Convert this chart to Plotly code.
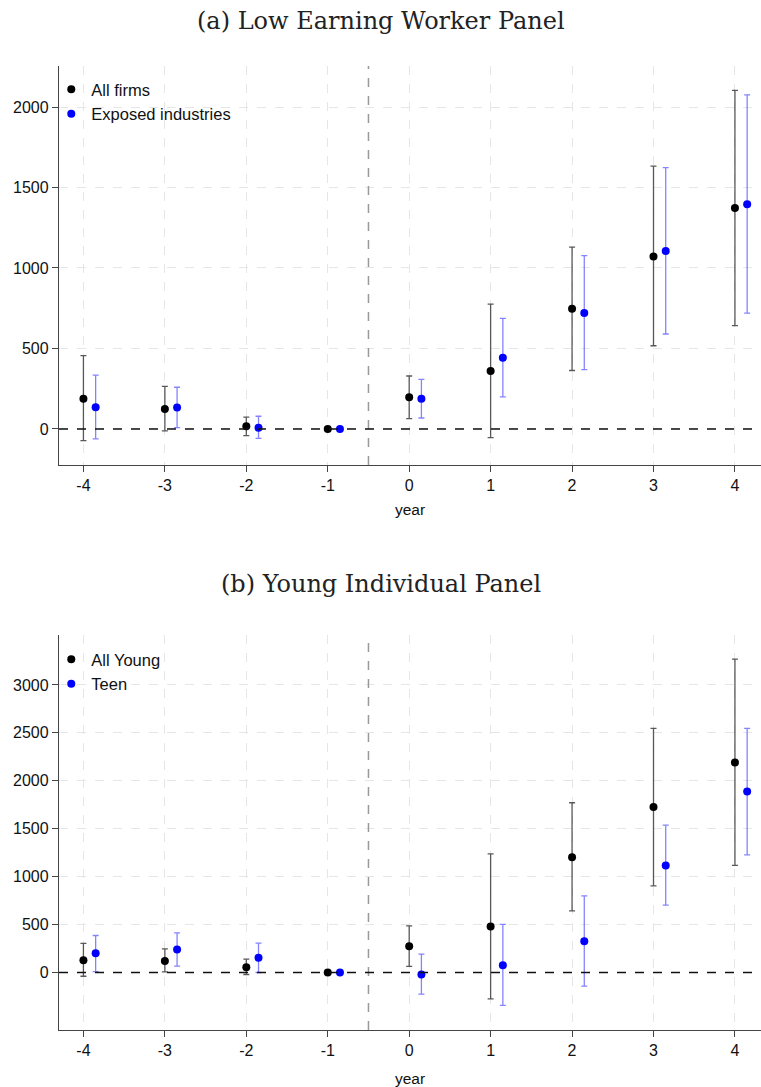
import plotly.graph_objects as go

years = [-4, -3, -2, -1, 0, 1, 2, 3, 4]
x_ticks = [-4, -3, -2, -1, 0, 1, 2, 3, 4]
x_tick_labels = ["-4", "-3", "-2", "-1", "0", "1", "2", "3", "4"]

# Panel (a): Low Earning Worker Panel
a_all_est = [188, 124, 17, 0, 197, 360, 747, 1072, 1372]
a_all_lo = [-73, -12, -41, 0, 64, -54, 363, 517, 642]
a_all_hi = [455, 265, 73, 0, 329, 776, 1130, 1633, 2103]
a_exp_est = [135, 133, 8, 0, 188, 443, 720, 1106, 1396]
a_exp_lo = [-62, 8, -58, 0, 68, 199, 368, 590, 719]
a_exp_hi = [335, 259, 79, 0, 308, 687, 1077, 1623, 2075]

# Panel (b): Young Individual Panel
b_all_est = [128, 121, 55, 0, 275, 480, 1203, 1726, 2192]
b_all_lo = [-39, 7, -21, 0, 63, -275, 643, 904, 1117]
b_all_hi = [303, 246, 139, 0, 487, 1238, 1771, 2547, 3270]
b_teen_est = [201, 240, 153, 0, -21, 76, 327, 1117, 1889]
b_teen_lo = [10, 66, 0, 0, -226, -344, -143, 703, 1228]
b_teen_hi = [386, 413, 306, 0, 191, 501, 800, 1538, 2547]

a_yticks = [0, 500, 1000, 1500, 2000]
b_yticks = [0, 500, 1000, 1500, 2000, 2500, 3000]

offset = 0.15
W, H = 761, 1087

fig = go.Figure()


def add_series(name, est, lo, hi, color, ecolor, xaxis, yaxis, legend, shift):
    fig.add_trace(go.Scatter(
        x=[y + shift for y in years], y=est, mode="markers", name=name,
        marker=dict(color=color, size=8),
        error_y=dict(type="data", symmetric=False,
                     array=[h - e for h, e in zip(hi, est)],
                     arrayminus=[e - l for e, l in zip(est, lo)],
                     color=ecolor, thickness=1.3, width=3),
        xaxis=xaxis, yaxis=yaxis, legend=legend, showlegend=True,
    ))


add_series("All firms", a_all_est, a_all_lo, a_all_hi, "black", "rgba(60,60,60,0.85)", "x", "y", "legend", 0)
add_series("Exposed industries", a_exp_est, a_exp_lo, a_exp_hi, "#0000ff", "rgba(80,80,255,0.7)", "x", "y", "legend", offset)
add_series("All Young", b_all_est, b_all_lo, b_all_hi, "black", "rgba(60,60,60,0.85)", "x2", "y2", "legend2", 0)
add_series("Teen", b_teen_est, b_teen_lo, b_teen_hi, "#0000ff", "rgba(80,80,255,0.7)", "x2", "y2", "legend2", offset)


def py(px):
    return 1 - px / H


axis_common = dict(
    showline=True, linecolor="#444", linewidth=1.3,
    ticks="outside", ticklen=6, tickcolor="#444", tickwidth=1.2,
    showgrid=True, gridcolor="#e6e6e6", griddash="dash", gridwidth=1,
    zeroline=False, tickfont=dict(family="Liberation Sans, Arial", size=16, color="#111"),
)

title_font = dict(family="DejaVu Serif, Liberation Serif, serif", size=24, color="#222")
legend_font = dict(family="Liberation Sans, Arial", size=16.5, color="#111")
xtitle_font = dict(family="Liberation Sans, Arial", size=15.5, color="#111")
xrange = [-4.3, 4.32]
fig.update_layout(
    width=W, height=H, plot_bgcolor="white", paper_bgcolor="white",
    margin=dict(l=59, r=0, t=0, b=0),
    xaxis=dict(domain=[0, 1], range=xrange, tickvals=x_ticks, ticktext=x_tick_labels, anchor="y",
               title=dict(text="year", font=xtitle_font, standoff=10),
               **axis_common),
    yaxis=dict(domain=[py(465), py(66)], range=[-224, 2255], tickvals=a_yticks, anchor="x", **axis_common),
    xaxis2=dict(domain=[0, 1], range=xrange, tickvals=x_ticks, ticktext=x_tick_labels, anchor="y2",
                title=dict(text="year", font=xtitle_font, standoff=14),
                **axis_common),
    yaxis2=dict(domain=[py(1030), py(635)], range=[-600, 3521], tickvals=b_yticks, anchor="x2", **axis_common),
    legend=dict(x=-0.011, y=py(72), xanchor="left", yanchor="top", bgcolor="rgba(0,0,0,0)",
                font=legend_font, itemwidth=30, tracegroupgap=0),
    legend2=dict(x=-0.011, y=py(642), xanchor="left", yanchor="top", bgcolor="rgba(0,0,0,0)",
                 font=legend_font, itemwidth=30, tracegroupgap=0),
    showlegend=True,
    annotations=[
        dict(text="(a) Low Earning Worker Panel", x=0.5, xref="paper", y=py(21), yref="paper",
             xanchor="center", yanchor="middle", showarrow=False, xshift=-29,
             font=title_font),
        dict(text="(b) Young Individual Panel", x=0.5, xref="paper", y=py(584), yref="paper",
             xanchor="center", yanchor="middle", showarrow=False, xshift=-29,
             font=title_font),
    ],
    shapes=[
        dict(type="line", xref="x", yref="y domain", x0=-0.5, x1=-0.5, y0=0, y1=1,
             line=dict(color="#999", width=1.5, dash="dash")),
        dict(type="line", xref="x domain", yref="y", x0=0, x1=1, y0=0, y1=0,
             line=dict(color="#111", width=1.5, dash="dash")),
        dict(type="line", xref="x2", yref="y2 domain", x0=-0.5, x1=-0.5, y0=0, y1=1,
             line=dict(color="#999", width=1.5, dash="dash")),
        dict(type="line", xref="x2 domain", yref="y2", x0=0, x1=1, y0=0, y1=0,
             line=dict(color="#111", width=1.5, dash="dash")),
    ],
)

fig.write_html("out.html", config={"displayModeBar": False},
               post_script="document.body.style.margin='0';document.body.style.overflow='hidden';")
